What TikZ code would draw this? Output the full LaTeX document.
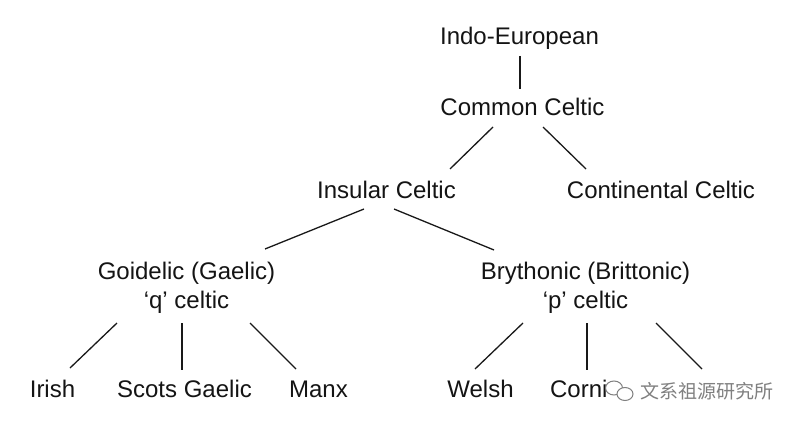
\documentclass[tikz,border=0pt]{standalone}
\usepackage{fontspec}
\setmainfont{Liberation Sans}
\newfontfamily\cjk{Noto Sans CJK SC}
\begin{document}
\begin{tikzpicture}[x=1pt,y=-1pt,
  lbl/.style={anchor=base, inner sep=0pt, text=black!92, font=\fontsize{24}{29}\selectfont, align=center},
  conn/.style={draw=black!90, line width=1.3pt},
  wm/.style={text=black!50, inner sep=0pt, anchor=west, font=\cjk\fontsize{19}{19}\selectfont}]
\useasboundingbox[fill=white] (0,0) rectangle (800,425);
% nodes (base of a two-line node = baseline of its last line)
\node[lbl] (ie)  at (519.5,45)  {Indo-European};
\node[lbl] (cc)  at (522.5,116) {Common Celtic};
\node[lbl] (ins) at (386.5,198) {Insular Celtic};
\node[lbl] (con) at (661,198)   {Continental Celtic};
\node[lbl] (goi) at (186.5,308) {Goidelic (Gaelic)\\‘q’ celtic};
\node[lbl] (bry) at (585.5,308) {Brythonic (Brittonic)\\‘p’ celtic};
\node[lbl] (iri) at (52.5,397)  {Irish};
\node[lbl] (sco) at (184.5,397) {Scots Gaelic};
\node[lbl] (man) at (318.5,397) {Manx};
\node[lbl] (wel) at (480.5,397) {Welsh};
\node[lbl] (cor) at (591.5,397) {Cornish};
\coordinate (bre) at (702,369);
% connectors
\draw[conn] ([shift={(0.5,11)}]ie.base)  -- ([shift={(-2.5,-27)}]cc.base);
\draw[conn] ([shift={(-29.5,11)}]cc.base) -- ([shift={(63.5,-29)}]ins.base);
\draw[conn] ([shift={(20.5,11)}]cc.base)  -- ([shift={(-75,-29)}]con.base);
\draw[conn] ([shift={(-22.5,11)}]ins.base) -- ([shift={(78.5,-59)}]goi.base);
\draw[conn] ([shift={(7.5,11)}]ins.base)   -- ([shift={(-91.5,-58)}]bry.base);
\draw[conn] ([shift={(-69.5,15)}]goi.base) -- ([shift={(17.5,-29)}]iri.base);
\draw[conn] ([shift={(-4.5,15)}]goi.base)  -- ([shift={(-2.5,-27)}]sco.base);
\draw[conn] ([shift={(63.5,15)}]goi.base)  -- ([shift={(-22.5,-28)}]man.base);
\draw[conn] ([shift={(-62.5,15)}]bry.base) -- ([shift={(-5.5,-28)}]wel.base);
\draw[conn] ([shift={(1.5,15)}]bry.base)   -- ([shift={(-4.5,-27)}]cor.base);
\draw[conn] ([shift={(70.5,15)}]bry.base)  -- (bre);
% watermark overlay
\fill[white] (606,376) rectangle (640,404);
\draw[black!50, line width=1pt] (614,388) ellipse [x radius=8.5, y radius=7];
\draw[black!50, line width=1pt, fill=white] (625,394) ellipse [x radius=8, y radius=6.5];
\node[wm] (wmtext) at (640,391) {文系祖源研究所};
\end{tikzpicture}
\end{document}
